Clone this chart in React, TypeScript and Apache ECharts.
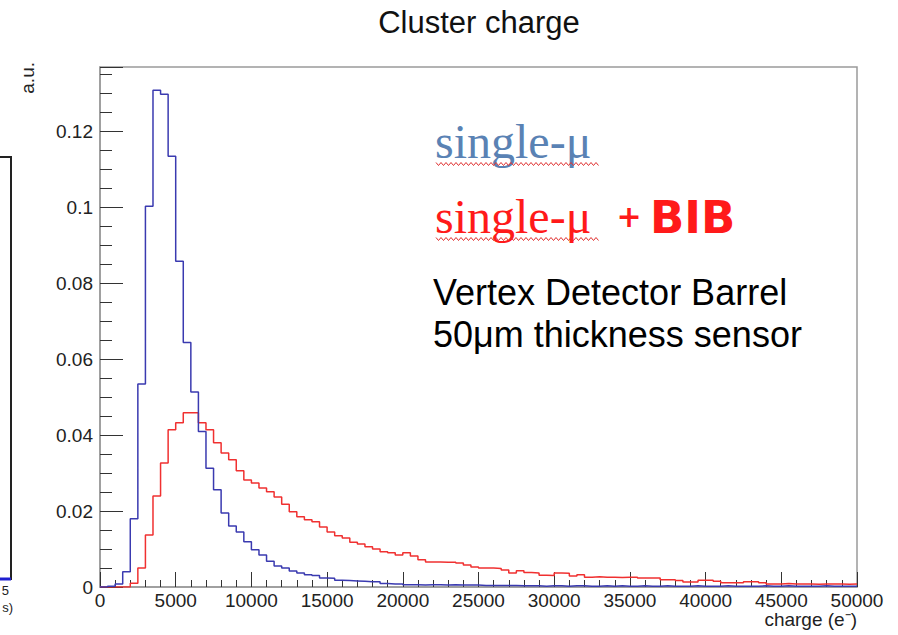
import React, { useEffect, useRef } from "react";
import * as echarts from "echarts";

const binWidth = 500;
const xMax = 50000;
const yMax = 0.137;

// single-mu (blue) bin contents, 500 e- bins from 0 to 50000
const blueValues = [
  0, 0.0002, 0.0008, 0.004, 0.018, 0.0535, 0.1003, 0.1309, 0.1298, 0.1135,
  0.0858, 0.0644, 0.0514, 0.041, 0.0313, 0.0256, 0.0195, 0.0161, 0.0145, 0.0119,
  0.0098, 0.0084, 0.0068, 0.0055, 0.005, 0.0042, 0.0037, 0.0032, 0.003, 0.0024,
  0.0023, 0.0018, 0.0017, 0.0016, 0.0015, 0.0014, 0.0014, 0.0009, 0.0008, 0.0008,
  0.0006, 0.0006, 0.0005, 0.0006, 0.0006, 0.0005, 0.0006, 0.0005, 0.0005, 0.0005,
  0.0004, 0.0004, 0.0004, 0.0004, 0.0004, 0.0003, 0.0003, 0.0003, 0.0002, 0.0003,
  0.0003, 0.0002, 0.0003, 0.0003, 0.0002, 0.0002, 0.0003, 0.0002, 0.0003, 0.0002,
  0.0002, 0.0003, 0.0002, 0.0002, 0.0003, 0.0002, 0.0002, 0.0002, 0.0003, 0.0002,
  0.0002, 0.0002, 0.0003, 0.0002, 0.0002, 0.0002, 0.0002, 0.0003, 0.0002, 0.0002,
  0.0003, 0.0002, 0.0002, 0.0002, 0.0002, 0.0003, 0.0002, 0.0002, 0.0002, 0.0002,
];

// single-mu + BIB (red) bin contents
const redValues = [
  0, 0, 0, 0, 0.001, 0.005, 0.0137, 0.024, 0.0327, 0.0414,
  0.0433, 0.0459, 0.0459, 0.0433, 0.0414, 0.038, 0.0353, 0.0335, 0.0306, 0.0282,
  0.0274, 0.0261, 0.0251, 0.0237, 0.0218, 0.0198, 0.0185, 0.0177, 0.0172, 0.0158,
  0.0145, 0.0135, 0.0129, 0.0118, 0.0113, 0.0106, 0.01, 0.0093, 0.009, 0.0084,
  0.009, 0.0082, 0.0072, 0.0066, 0.0066, 0.0065, 0.0065, 0.0063, 0.0058, 0.0053,
  0.005, 0.005, 0.0049, 0.0045, 0.0037, 0.0043, 0.0038, 0.0037, 0.0031, 0.003,
  0.0037, 0.0036, 0.0029, 0.0032, 0.0026, 0.0027, 0.0026, 0.0026, 0.0025, 0.0026,
  0.0026, 0.0024, 0.0024, 0.0024, 0.0019, 0.0019, 0.0017, 0.0013, 0.0013, 0.0018,
  0.0018, 0.0015, 0.0011, 0.0011, 0.0011, 0.0014, 0.0014, 0.0011, 0.0008, 0.0008,
  0.0009, 0.0008, 0.0008, 0.0008, 0.0007, 0.0008, 0.0008, 0.0008, 0.0007, 0.0008,
];

const titleText = "Cluster charge";
const xAxisTitle = "charge (e\u207B)";
const yAxisTitle = "a.u.";
const legendBlue = "single-\u03BC";
const legendRed = "single-\u03BC";
const legendBib = "BIB";
const noteLines = ["Vertex Detector Barrel", "50\u03BCm thickness sensor"];

function toSteps(values: number[]) {
  const pts = values.map((v, i) => [i * binWidth, v]);
  pts.push([values.length * binWidth, values[values.length - 1]]);
  return pts;
}

function squiggle(x0: number, x1: number, y: number) {
  const pts: number[][] = [];
  let up = true;
  for (let x = x0; x <= x1; x += 2.5) {
    pts.push([x, up ? y - 1.5 : y + 1.5]);
    up = !up;
  }
  return pts;
}

const SANS = "'Liberation Sans', Arial, Helvetica, sans-serif";
const SERIF = "'Liberation Serif', 'Times New Roman', serif";

export default function App() {
  const ref = useRef<HTMLDivElement>(null);
  useEffect(() => {
    document.body.style.margin = "0";
    const chart = echarts.init(ref.current!, null, { renderer: "svg" });
    const option: any = {
      animation: false,
      backgroundColor: "#ffffff",
      grid: {
        left: 100,
        top: 67,
        right: 41,
        bottom: 48,
        show: true,
        borderColor: "#9a9a9a",
        borderWidth: 1.5,
      },
      xAxis: {
        type: "value",
        min: 0,
        max: xMax,
        interval: 5000,
        axisLine: { show: true, lineStyle: { color: "#9a9a9a", width: 1.5 } },
        axisTick: { show: true, inside: true, length: 15, lineStyle: { color: "#333", width: 1 } },
        minorTick: { show: true, splitNumber: 5, length: 7, lineStyle: { color: "#333", width: 1 } },
        axisLabel: {
          fontFamily: SANS,
          fontSize: 19,
          color: "#222",
          margin: 4,
          formatter: (v: number) => String(v),
        },
        splitLine: { show: false },
      },
      yAxis: {
        type: "value",
        min: 0,
        max: yMax,
        interval: 0.02,
        axisLine: { show: true, lineStyle: { color: "#9a9a9a", width: 1.5 } },
        axisTick: { show: true, inside: true, length: 23, lineStyle: { color: "#333", width: 1 } },
        minorTick: { show: true, splitNumber: 4, length: 12, lineStyle: { color: "#333", width: 1 } },
        axisLabel: {
          fontFamily: SANS,
          fontSize: 19,
          color: "#222",
          margin: 7,
          showMaxLabel: false,
          formatter: (v: number) => {
            const q = v / 0.02;
            if (Math.abs(q - Math.round(q)) > 1e-6) return "";
            return String(Math.round(v * 100) / 100);
          },
        },
        splitLine: { show: false },
      },
      series: [
        {
          type: "line",
          step: "end",
          showSymbol: false,
          data: toSteps(redValues),
          lineStyle: { color: "#f03030", width: 1.5 },
          z: 2,
        },
        {
          type: "line",
          step: "end",
          showSymbol: false,
          data: toSteps(blueValues),
          lineStyle: { color: "#3a3ab0", width: 1.5 },
          z: 3,
        },
      ],
      graphic: [
        {
          type: "text",
          x: 479,
          y: 22,
          style: { text: titleText, fontFamily: SANS, fontSize: 31, fill: "#111", align: "center", verticalAlign: "middle" },
        },
        {
          type: "text",
          x: 27,
          y: 62,
          rotation: Math.PI / 2,
          style: { text: yAxisTitle, fontFamily: SANS, fontSize: 19, fill: "#222", align: "right", verticalAlign: "middle" },
        },
        {
          type: "text",
          x: 857,
          y: 619,
          style: { text: xAxisTitle, fontFamily: SANS, fontSize: 19, fill: "#222", align: "right", verticalAlign: "middle" },
        },
        {
          type: "text",
          x: 435,
          y: 141,
          style: { text: legendBlue, fontFamily: SERIF, fontSize: 48, fill: "#5a82b4", align: "left", verticalAlign: "middle" },
        },
        {
          type: "polyline",
          shape: { points: squiggle(436, 600, 164) },
          style: { stroke: "#e03030", lineWidth: 1, fill: null },
        },
        {
          type: "text",
          x: 435,
          y: 216,
          style: { text: legendRed, fontFamily: SERIF, fontSize: 48, fill: "#ff1a1a", align: "left", verticalAlign: "middle" },
        },
        {
          type: "polyline",
          shape: { points: squiggle(436, 600, 239) },
          style: { stroke: "#e03030", lineWidth: 1, fill: null },
        },
        {
          type: "text",
          x: 629,
          y: 216,
          style: { text: "+", fontFamily: "'DejaVu Sans', sans-serif", fontSize: 30, fontWeight: "bold", fill: "#ff1a1a", align: "center", verticalAlign: "middle" },
        },
        {
          type: "text",
          x: 650,
          y: 217,
          style: { text: legendBib, fontFamily: "'DejaVu Sans', sans-serif", fontSize: 45, fontWeight: "bold", fill: "#ff1a1a", align: "left", verticalAlign: "middle" },
        },
        {
          type: "text",
          x: 433,
          y: 292,
          style: { text: noteLines[0], fontFamily: SANS, fontSize: 36, fill: "#000", align: "left", verticalAlign: "middle" },
        },
        {
          type: "text",
          x: 433,
          y: 334,
          style: { text: noteLines[1], fontFamily: SANS, fontSize: 36, fill: "#000", align: "left", verticalAlign: "middle" },
        },
        // partial neighbouring plot at the left edge
        {
          type: "line",
          shape: { x1: 11, y1: 157, x2: 11, y2: 580 },
          style: { stroke: "#222", lineWidth: 2 },
        },
        {
          type: "line",
          shape: { x1: 0, y1: 157, x2: 12, y2: 157 },
          style: { stroke: "#222", lineWidth: 2 },
        },
        {
          type: "line",
          shape: { x1: 0, y1: 579, x2: 11, y2: 579 },
          style: { stroke: "#1f1fd0", lineWidth: 3 },
        },
        {
          type: "text",
          x: 9,
          y: 590,
          style: { text: "5", fontFamily: SANS, fontSize: 13, fill: "#222", align: "right", verticalAlign: "middle" },
        },
        {
          type: "text",
          x: 13,
          y: 607,
          style: { text: "s)", fontFamily: SANS, fontSize: 13, fill: "#222", align: "right", verticalAlign: "middle" },
        },
      ],
    };
    chart.setOption(option);
    return () => chart.dispose();
  }, []);
  return <div ref={ref} style={{ width: 898, height: 635 }} />;
}
